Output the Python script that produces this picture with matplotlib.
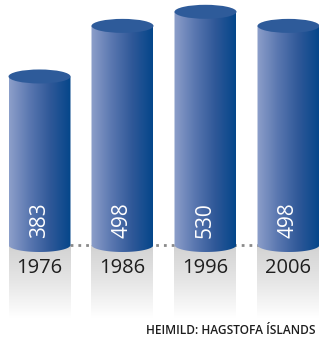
import numpy as np
import matplotlib
matplotlib.use("Agg")
import matplotlib.pyplot as plt
from matplotlib.patches import Ellipse, PathPatch
from matplotlib.path import Path
from matplotlib.colors import LinearSegmentedColormap

# data
years = ["1976", "1986", "1996", "2006"]
values = [383, 498, 530, 498]
source = "HEIMILD: HAGSTOFA ÍSLANDS"

W, H = 319, 338
PX = 0.44          # pixels per unit
BASE = 245         # baseline pixel row
X0, STEP = 39.5, 83.0

fig = plt.figure(figsize=(W / 100, H / 100), dpi=100)
ax = fig.add_axes([0, 0, 1, 1])
ax.set_xlim(-X0 / STEP, (W - X0) / STEP)
ax.set_ylim(-(H - BASE) / PX, BASE / PX)
ax.axis("off")

bar_w = 62 / STEP
ell_h = 14 / PX

body_cmap = LinearSegmentedColormap.from_list(
    "body", ["#8d9fca", "#5a77b0", "#2f5898", "#04468a"])
shade_cmap = LinearSegmentedColormap.from_list(
    "shade", ["#d2d2d2", "#e6e6e6", "#ffffff"])

grad = np.linspace(0, 1, 256).reshape(1, -1)
vgrad = np.linspace(0, 1, 256).reshape(-1, 1)

# dotted baseline between columns
ax.plot([0, len(years) - 1], [0, 0], linestyle=(0, (1, 1.8)),
        color="#8a8a8a", lw=2, zorder=1)

for i, (yr, v) in enumerate(zip(years, values)):
    left, right = i - bar_w / 2, i + bar_w / 2

    # grey floor shading under the column
    ax.imshow(vgrad, cmap=shade_cmap, aspect="auto", origin="upper",
              extent=[left, right, -165, 0], zorder=0)

    # cylinder body: rectangle plus half ellipse at bottom
    t = np.linspace(np.pi, 2 * np.pi, 60)
    bx = i + bar_w / 2 * np.cos(t)
    by = ell_h / 2 * np.sin(t)
    verts = [(left, v)] + list(zip(bx, by)) + [(right, v), (left, v)]
    codes = [Path.MOVETO] + [Path.LINETO] * (len(verts) - 2) + [Path.CLOSEPOLY]
    clip = PathPatch(Path(verts, codes), facecolor="none", edgecolor="none")
    ax.add_patch(clip)
    im = ax.imshow(grad, cmap=body_cmap, aspect="auto",
                   extent=[left, right, -ell_h, v], zorder=2)
    im.set_clip_path(clip)

    # top cap
    ax.add_patch(Ellipse((i, v), bar_w, ell_h, facecolor="#2e5b9a",
                         edgecolor="none", zorder=3))

    ax.text(i, 17, str(v), rotation=90, ha="center", va="bottom",
            color="white", fontsize=15, family="Open Sans", zorder=4)
    ax.text(i, -23 / PX, yr, ha="center", va="center",
            color="#1e1e1e", fontsize=14.5, family="Open Sans", zorder=4)

ax.text((316 - X0) / STEP, -(330 - BASE) / PX, source, ha="right", va="center",
        color="#1e1e1e", fontsize=8.6, family="Open Sans", fontweight="semibold",
        zorder=4)

fig.savefig("out.png", dpi=100)
